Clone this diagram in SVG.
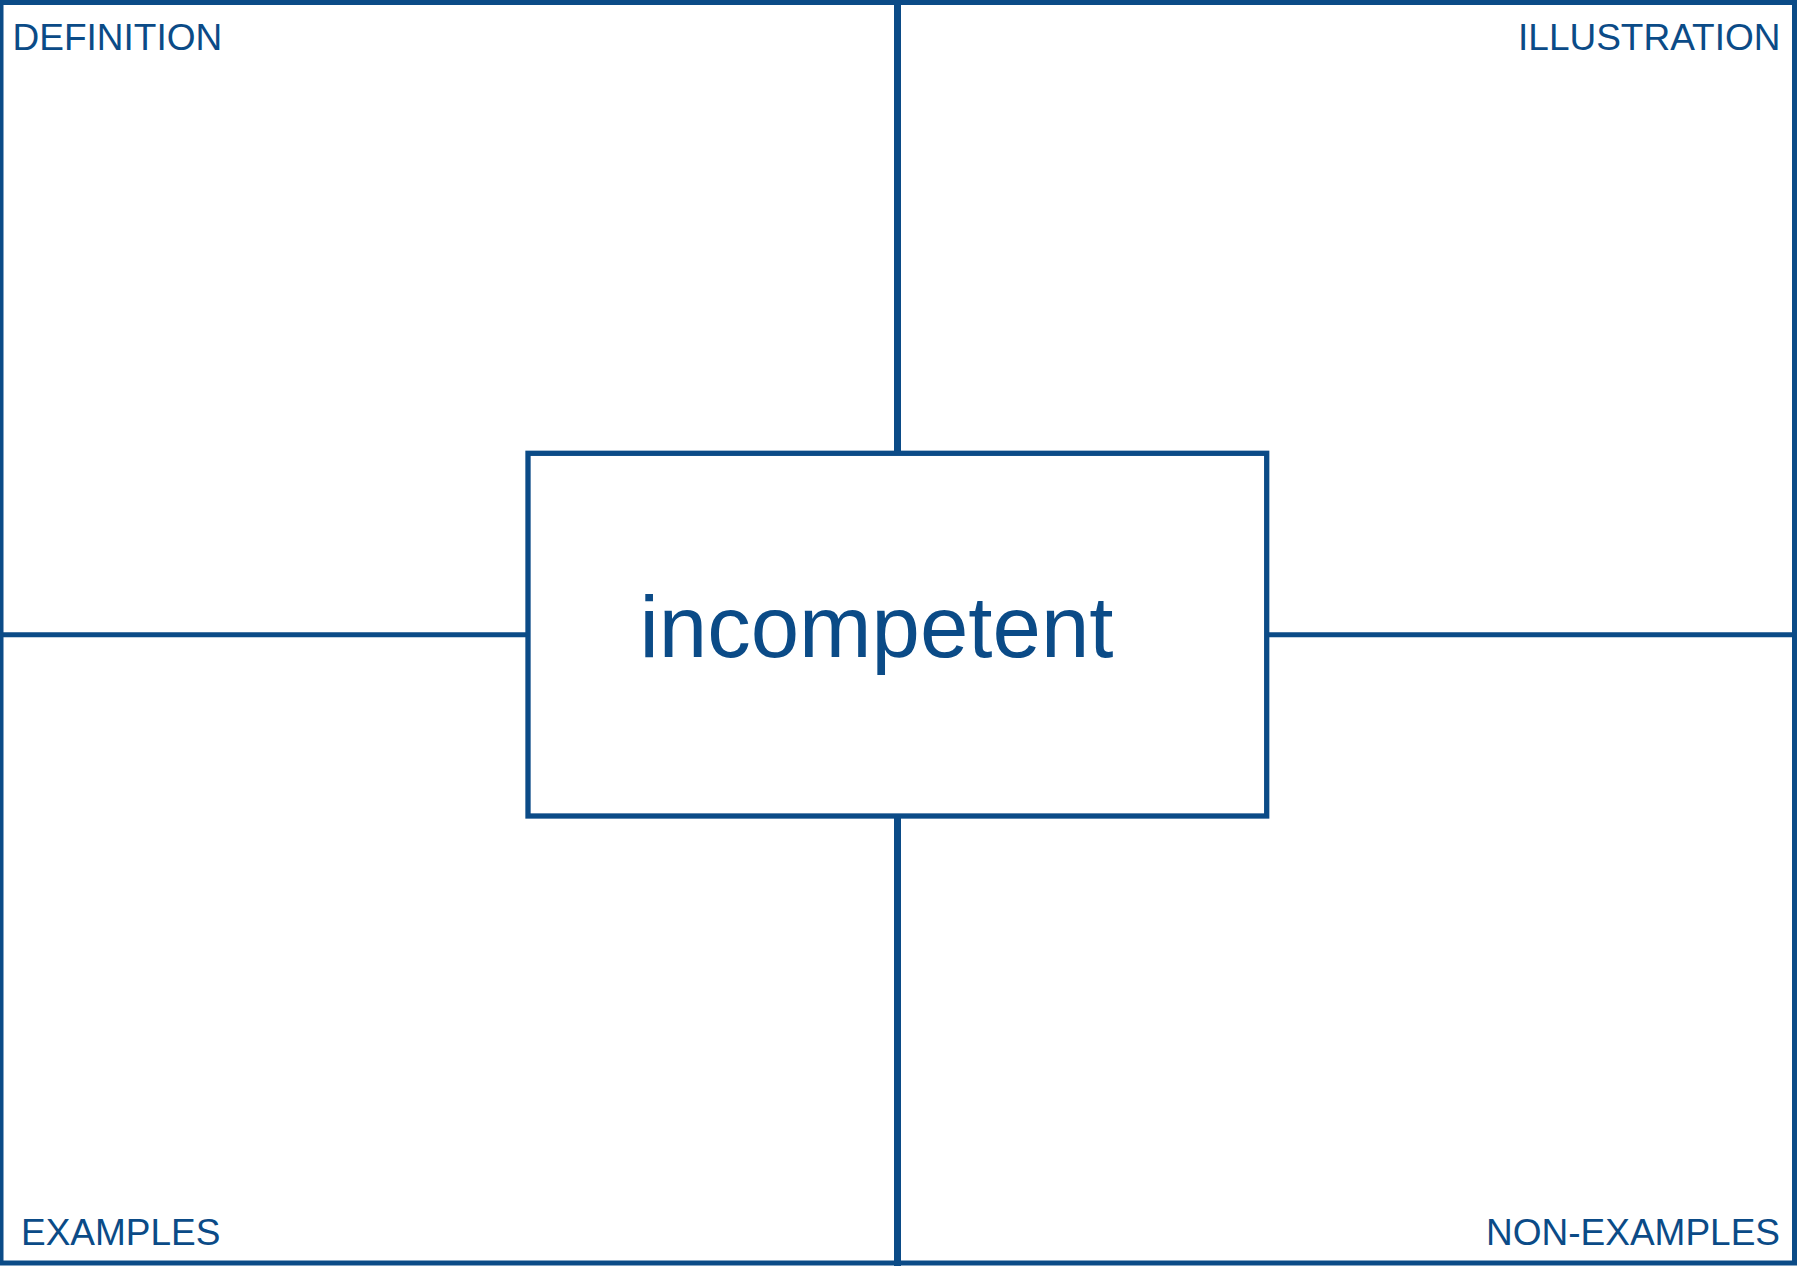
<svg xmlns="http://www.w3.org/2000/svg" width="1797" height="1266" viewBox="0 0 1797 1266">
<style>
.ln{stroke:#0B4B87;fill:none}
.lbl{font-family:"Liberation Sans",Arial,sans-serif;font-size:37px;fill:#0B4B87}
</style>
<rect x="0" y="0" width="1797" height="1266" fill="#ffffff"/>
<g id="connectors">
<line class="ln" x1="897.5" y1="0" x2="897.5" y2="453.3" stroke-width="7"/>
<line class="ln" x1="897.5" y1="816" x2="897.5" y2="1266" stroke-width="7"/>
<line class="ln" x1="0" y1="634.7" x2="528" y2="634.7" stroke-width="5"/>
<line class="ln" x1="1266.7" y1="634.7" x2="1794.5" y2="634.7" stroke-width="5"/>
</g>
<g id="frame">
<rect class="ln" x="1" y="2.5" width="1793.5" height="1260.5" stroke-width="5"/>
</g>
<g id="definition"><text class="lbl" x="12.5" y="50">DEFINITION</text></g>
<g id="illustration"><text class="lbl" x="1780.5" y="50" text-anchor="end">ILLUSTRATION</text></g>
<g id="examples"><text class="lbl" x="21" y="1244.5">EXAMPLES</text></g>
<g id="non-examples"><text class="lbl" x="1780" y="1245" text-anchor="end">NON-EXAMPLES</text></g>
<g id="center">
<rect class="ln" x="528" y="453.3" width="738.7" height="362.7" stroke-width="5.3" fill="#ffffff"/>
<text x="639.5" y="656.7" style="font-family:'Liberation Sans',Arial,sans-serif;font-size:87px;fill:#0B4B87">incompetent</text>
</g>
</svg>
